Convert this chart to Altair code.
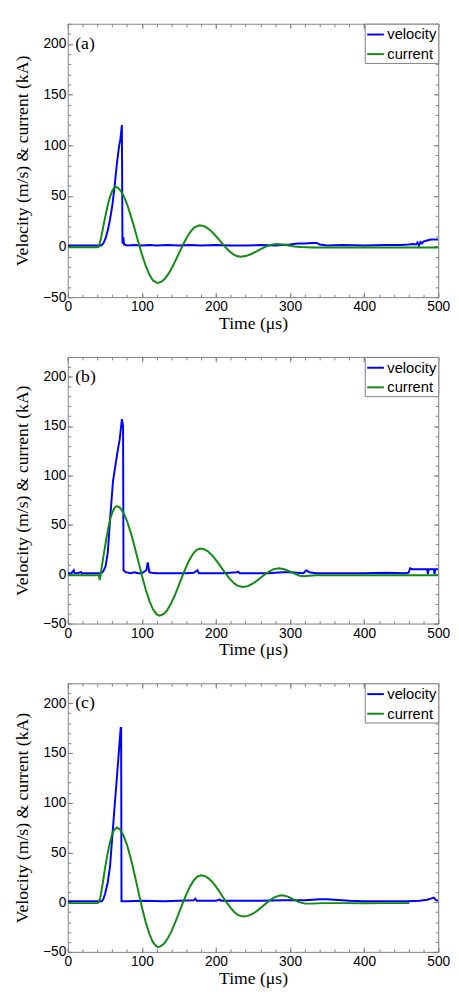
import altair as alt
import pandas as pd

# ---------------- data ----------------
SERIES = ["velocity", "current"]
COLORS = ["#0000ff", "#118a11"]
PANEL_TAGS = ["(a)", "(b)", "(c)"]
X_TITLE = "Time (μs)"
Y_TITLE = "Velocity (m/s) & current (kA)"
XTICKS = [0, 100, 200, 300, 400, 500]
YTICKS = [-50, 0, 50, 100, 150, 200]
XMINOR = list(range(0, 501, 20))
YMINOR = list(range(-50, 221, 10))

# (time in µs, value)
VEL_A = [(0, 1), (10, 1), (20, 1), (30, 1), (40, 1), (45, 1), (48, 3), (51, 8), (54, 16),
         (57, 27), (60, 40), (63, 58), (66, 80), (69, 98), (71, 106), (73, 120), (73.8, 3),
         (75, 9), (76, 2), (80, 1), (90, 1.5), (100, 1), (110, 1.5), (120, 1), (135, 1.5),
         (150, 1), (165, 1.5), (180, 1), (200, 1.5), (220, 1), (240, 1), (260, 1.5), (280, 1),
         (300, 2), (310, 3), (320, 3), (330, 3.5), (336, 3.5), (340, 2), (350, 1), (370, 1.5),
         (400, 1), (430, 1.5), (450, 1.5), (460, 2), (466, 2.5), (470, 2), (472, 4), (474, 1),
         (476, 4.5), (478, 3), (480, 5), (485, 6), (490, 7), (495, 7), (500, 7)]
CUR_A = [(0, -0.7), (20, -0.7), (40, -0.7), (42, 0), (45, 9), (48, 20), (51, 31), (54, 41),
         (57, 49), (60, 55), (64, 59), (68, 57.9), (72, 54.4), (76, 49), (80, 41.7), (85, 30.5),
         (90, 18), (95, 5), (100, -7.6), (105, -18.7), (110, -27.5), (115, -33.5), (121, -36),
         (126, -34.9), (131, -31.8), (136, -26.8), (141, -20.4), (146, -12.9), (151, -5.2),
         (156, 2.5), (161, 9.4), (166, 15), (171, 18.9), (178, 21), (183, 20.4), (188, 18.5),
         (193, 15.7), (198, 11.9), (203, 7.7), (208, 3.3), (213, -0.9), (218, -4.7), (223, -7.5),
         (228, -9.4), (233, -10), (240, -9.4), (247, -7.6), (254, -5.1), (261, -2.4), (268, 0.1),
         (275, 1.9), (282, 2.5), (290, 2), (298, 1), (306, 0), (315, -0.5), (330, -1),
         (360, -1), (400, -1), (450, -1), (500, -1)]

VEL_B = [(0, 1), (5, 1), (8, 4), (9, 1), (12, 1), (18, 2), (19, 1), (25, 1), (35, 1), (45, 1),
         (48, 3), (51, 8), (54, 22), (57, 55), (61, 94), (65.7, 117), (68, 128), (70, 136),
         (73, 157), (74.6, 150), (75.2, 4), (78, 2), (85, 1), (90, 2), (95, 1), (100, 1),
         (104, 3), (106, 4), (108, 12), (110, 2), (113, 1.5), (120, 1), (140, 1), (160, 1),
         (170, 1.5), (174, 3.5), (175, 4), (177, 1), (190, 1), (210, 1), (228, 2), (230, 2.5),
         (232, 1), (250, 1), (270, 1), (280, 1.5), (290, 2), (300, 2), (310, 1.5), (318, 1),
         (322, 4), (326, 2), (335, 1), (360, 1), (400, 1), (430, 1.5), (455, 1), (460, 1.5),
         (462, 6), (465, 5), (475, 5), (485, 5), (486, 0), (487, 5), (494, 5), (495, 0),
         (496, 5), (500, 5)]
CUR_B = [(0, -1), (20, -1), (42, -1), (43, -6), (44, -2), (46, 8), (49, 22), (52, 36),
         (55, 48), (58, 58), (61, 64), (63.5, 67.5), (66, 69), (70, 67.7), (75, 62.6),
         (80, 53.8), (85, 42.1), (90, 28.3), (95, 13.5), (100, -1.3), (105, -15.1),
         (110, -26.8), (115, -35.6), (120, -40.7), (124, -42), (129, -40.6), (134, -36.6),
         (139, -30.3), (144, -22.1), (149, -12.8), (154, -3.2), (159, 6.1), (164, 14.3),
         (169, 20.6), (174, 24.6), (179, 26), (184, 25.3), (189, 23.1), (194, 19.7),
         (199, 15.3), (204, 10.2), (209, 4.9), (214, -0.3), (219, -5), (224, -8.9),
         (229, -11.6), (236, -13), (243, -12.1), (250, -9.4), (257, -5.6), (264, -1.4),
         (271, 2.4), (278, 5.1), (285, 6), (292, 5), (299, 3), (306, 0.5), (313, -1.5),
         (319, -2), (326, -1.5), (335, -1), (360, -1), (400, -1), (450, -1), (500, -1)]

VEL_C = [(0, 1), (20, 1), (40, 1), (46, 1), (48, 3), (50.5, 9), (54, 20), (57, 36), (61, 75),
         (65.5, 118), (68.8, 150), (71.4, 175), (72, 175), (72.5, 1), (80, 1), (100, 1.5),
         (130, 1), (150, 1.5), (170, 2), (172, 3.5), (174, 1.5), (200, 1.5), (205, 2.5),
         (207, 1.5), (230, 1.5), (260, 1.5), (290, 2), (320, 2), (330, 2.5), (340, 3),
         (350, 3), (360, 2.5), (370, 2), (380, 1.5), (400, 1), (430, 1), (460, 1), (475, 1.5),
         (485, 2.5), (490, 3.5), (494, 4.5), (497, 2), (500, 1.5)]
CUR_C = [(0, -1), (20, -1), (40, -1), (42, 0), (44, 5), (47, 18), (50, 33), (53, 46),
         (56, 57), (59, 66), (62, 72), (66, 75), (70, 73.5), (75, 67.5), (80, 57.4), (85, 44),
         (90, 28.4), (95, 11.6), (100, -4.8), (105, -19.7), (110, -31.8), (115, -40.5),
         (120, -44.6), (122, -45), (125, -44.5), (130, -41.7), (135, -36.4), (140, -29.2),
         (145, -20.4), (150, -10.9), (155, -1.3), (160, 7.8), (165, 15.8), (170, 21.8),
         (175, 25.7), (180, 27), (185, 26.2), (190, 23.9), (195, 20.3), (200, 15.6),
         (205, 10.2), (210, 4.5), (215, -1), (220, -6), (225, -10.1), (230, -13), (237, -14.5),
         (243, -13.8), (249, -11.9), (255, -9), (261, -5.3), (267, -1.5), (273, 2), (279, 4.8),
         (285, 6.5), (290, 7), (297, 5.5), (304, 3), (312, 0), (320, -1.5), (330, -1.5),
         (345, -1), (370, -1), (400, -1.2), (430, -1), (461, -1)]

PANELS = [(VEL_A, CUR_A, 279), (VEL_B, CUR_B, 272), (VEL_C, CUR_C, 274)]

# ---------------- styling ----------------
GRAY = "#808080"
SANS = "Liberation Sans"
SERIF = "Liberation Serif"
WIDTH = 378


def make_panel(vel, cur, tag, height):
    rows = []
    for name, pts in zip(SERIES, [vel, cur]):
        for i, (t, v) in enumerate(pts):
            rows.append({"t": t, "v": v, "s": name, "o": i})
    df = pd.DataFrame(rows)

    xs = alt.Scale(domain=[0, 500], nice=False, zero=False)
    ys = alt.Scale(domain=[-50, 220], nice=False, zero=False)
    base = alt.Chart(df)

    lines = base.mark_line(strokeWidth=2, clip=True).encode(
        x=alt.X("t:Q", scale=xs, axis=alt.Axis(
            orient="bottom", values=XTICKS, title=X_TITLE, ticks=False, domain=False,
            grid=False, labelFlush=False, labelFont=SANS, labelFontSize=14,
            labelColor="black", labelPadding=3, titleFont=SERIF, titleFontSize=18,
            titleFontWeight="normal", titleColor="black", titlePadding=1, minExtent=0)),
        y=alt.Y("v:Q", scale=ys, axis=alt.Axis(
            orient="left", values=YTICKS, title=Y_TITLE, ticks=False, domain=False,
            grid=False, labelFont=SANS, labelFontSize=14, labelColor="black",
            labelPadding=2, titleFont=SERIF, titleFontSize=18, titleFontWeight="normal",
            titleColor="black", titlePadding=11, minExtent=0)),
        color=alt.Color("s:N", scale=alt.Scale(domain=SERIES, range=COLORS),
                        legend=alt.Legend(
                            title=None, orient="top-right", offset=0, strokeColor=GRAY,
                            fillColor="white", padding=1, labelFont=SANS, labelFontSize=15,
                            labelColor="black", symbolType="stroke", symbolStrokeWidth=2,
                            symbolSize=290, rowPadding=2, labelOffset=2)),
        order="o:Q",
    )

    def tick_layer(xvals, yvals, size, ox, oy):
        return base.mark_point(opacity=0).encode(
            x=alt.X("t:Q", scale=xs, axis=alt.Axis(
                orient=ox, values=xvals, labels=False, title=None, domain=False,
                grid=False, ticks=True, tickSize=size, tickColor=GRAY, offset=-size,
                minExtent=0, maxExtent=0)),
            y=alt.Y("v:Q", scale=ys, axis=alt.Axis(
                orient=oy, values=yvals, labels=False, title=None, domain=False,
                grid=False, ticks=True, tickSize=size, tickColor=GRAY, offset=-size,
                minExtent=0, maxExtent=0)),
        )

    t1 = tick_layer(XTICKS, YTICKS, 5, "bottom", "left")
    t2 = tick_layer(XMINOR, YMINOR, 3, "bottom", "left")
    t3 = tick_layer(XTICKS, YTICKS, 5, "top", "right")
    t4 = tick_layer(XMINOR, YMINOR, 3, "top", "right")

    tag_df = pd.DataFrame({"t": [10], "v": [200], "label": [tag]})
    tag_layer = alt.Chart(tag_df).mark_text(
        align="left", baseline="middle", font=SERIF, fontSize=18, color="black"
    ).encode(
        x=alt.X("t:Q", scale=xs, axis=None),
        y=alt.Y("v:Q", scale=ys, axis=None),
        text="label:N",
    )

    return alt.layer(lines, t1, t2, t3, t4, tag_layer).resolve_axis(
        x="independent", y="independent"
    ).properties(width=WIDTH, height=height)


charts = [make_panel(v, c, tag, h) for (v, c, h), tag in zip(PANELS, PANEL_TAGS)]

chart = alt.vconcat(*charts, spacing=23).resolve_legend(color="independent").configure_view(
    stroke=GRAY, strokeWidth=1
).properties(padding={"left": 5, "top": 5, "right": 0, "bottom": 0})

chart.save("out.html", embed_options={"renderer": "svg", "actions": False})
